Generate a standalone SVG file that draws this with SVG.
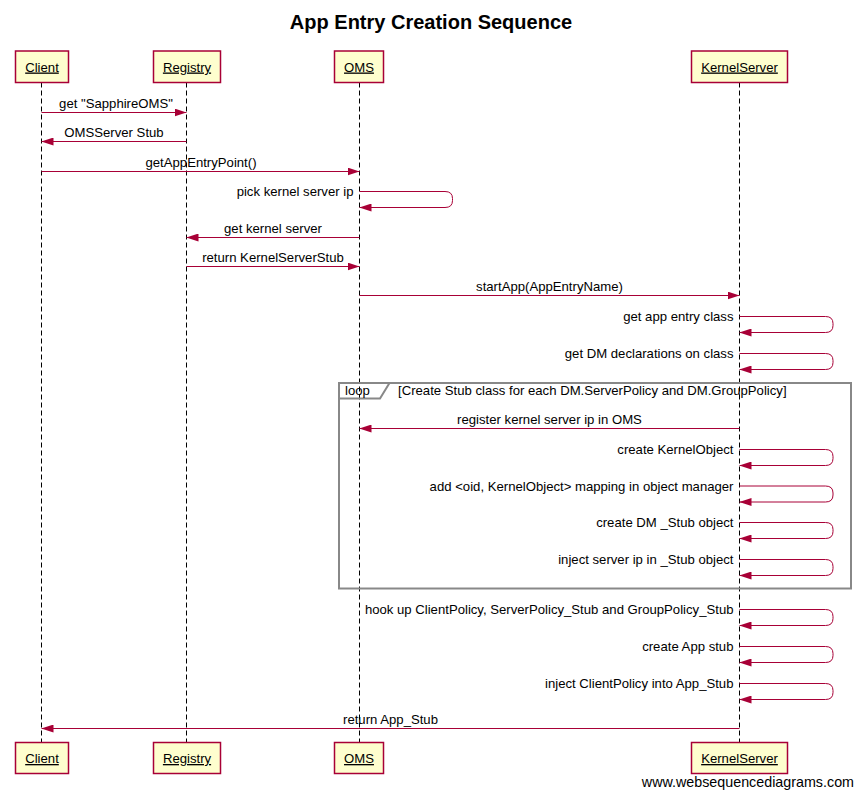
<svg xmlns="http://www.w3.org/2000/svg" width="863" height="797" viewBox="0 0 863 797">
<defs>
<style>
text{font-family:"Liberation Sans",Arial,sans-serif;font-size:13.15px;fill:#000}
.title{font-size:20px;font-weight:bold}
.box{fill:#FEFECE;stroke:#A80036;stroke-width:1.5}
.plabel{text-anchor:middle;text-decoration:underline}
.life{stroke:#000;stroke-width:1;stroke-dasharray:5,3;fill:none}
.msg{stroke:#A80036;stroke-width:1;fill:none;marker-end:url(#ah)}
.mid{text-anchor:middle}
.end{text-anchor:end}
.frame{fill:none;stroke:#888;stroke-width:2}
.wm{font-size:14.3px;text-anchor:end}
</style>
<marker id="ah" viewBox="0 0 12 8" refX="12" refY="4" markerWidth="12" markerHeight="8" markerUnits="userSpaceOnUse" orient="auto">
<path d="M0,0 L12,4 L0,8 z" fill="#A80036"/>
</marker>
</defs>
<rect width="863" height="797" fill="#fff"/>
<text class="title" x="431" y="29" text-anchor="middle">App Entry Creation Sequence</text>

<g id="lifelines">
<line class="life" x1="41.5" y1="82.5" x2="41.5" y2="742.5"/>
<line class="life" x1="186.5" y1="82.5" x2="186.5" y2="742.5"/>
<line class="life" x1="359.5" y1="82.5" x2="359.5" y2="742.5"/>
<line class="life" x1="739.5" y1="82.5" x2="739.5" y2="742.5"/>
</g>

<g id="loop-frame">
<rect class="frame" x="339" y="383" width="512" height="205.5"/>
<path class="frame" d="M339,398.5 H380 L389.5,383"/>
<text x="345" y="395">loop</text>
<text x="398" y="395">[Create Stub class for each DM.ServerPolicy and DM.GroupPolicy]</text>
</g>

<g id="connectors">
<line class="msg" x1="41.5" y1="112.5" x2="186.5" y2="112.5"/>
<text class="mid" x="116" y="108">get "SapphireOMS"</text>
<line class="msg" x1="186.5" y1="141.5" x2="41.5" y2="141.5"/>
<text class="mid" x="114" y="137">OMSServer Stub</text>
<line class="msg" x1="41.5" y1="171.5" x2="359.5" y2="171.5"/>
<text class="mid" x="201" y="167">getAppEntryPoint()</text>
<path class="msg" d="M359.5,191.5 H445 Q452.5,191.5 452.5,198.5 V200.5 Q452.5,207.5 445,207.5 H359.5"/>
<text class="end" x="353.5" y="196">pick kernel server ip</text>
<line class="msg" x1="359.5" y1="237.5" x2="186.5" y2="237.5"/>
<text class="mid" x="273" y="233">get kernel server</text>
<line class="msg" x1="186.5" y1="266.5" x2="359.5" y2="266.5"/>
<text class="mid" x="273" y="262">return KernelServerStub</text>
<line class="msg" x1="359.5" y1="295.5" x2="739.5" y2="295.5"/>
<text class="mid" x="549.5" y="291">startApp(AppEntryName)</text>
<path class="msg" d="M739.5,316.5 H825.5 Q833,316.5 833,323.5 V325.5 Q833,332.5 825.5,332.5 H739.5"/>
<text class="end" x="733.5" y="321">get app entry class</text>
<path class="msg" d="M739.5,353.5 H825.5 Q833,353.5 833,360.5 V362.5 Q833,369.5 825.5,369.5 H739.5"/>
<text class="end" x="733.5" y="358">get DM declarations on class</text>
<line class="msg" x1="739.5" y1="428.5" x2="359.5" y2="428.5"/>
<text class="mid" x="549.5" y="424">register kernel server ip in OMS</text>
<path class="msg" d="M739.5,449.5 H825.5 Q833,449.5 833,456.5 V458.5 Q833,465.5 825.5,465.5 H739.5"/>
<text class="end" x="733.5" y="454">create KernelObject</text>
<path class="msg" d="M739.5,486 H825.5 Q833,486 833,493 V495 Q833,502 825.5,502 H739.5"/>
<text class="end" x="733.5" y="490.5">add &lt;oid, KernelObject&gt; mapping in object manager</text>
<path class="msg" d="M739.5,522.5 H825.5 Q833,522.5 833,529.5 V531.5 Q833,538.5 825.5,538.5 H739.5"/>
<text class="end" x="733.5" y="527">create DM _Stub object</text>
<path class="msg" d="M739.5,559.5 H825.5 Q833,559.5 833,566.5 V568.5 Q833,575.5 825.5,575.5 H739.5"/>
<text class="end" x="733.5" y="564">inject server ip in _Stub object</text>
<path class="msg" d="M739.5,609.5 H825.5 Q833,609.5 833,616.5 V618.5 Q833,625.5 825.5,625.5 H739.5"/>
<text class="end" x="733.5" y="614">hook up ClientPolicy, ServerPolicy_Stub and GroupPolicy_Stub</text>
<path class="msg" d="M739.5,646.5 H825.5 Q833,646.5 833,653.5 V655.5 Q833,662.5 825.5,662.5 H739.5"/>
<text class="end" x="733.5" y="651">create App stub</text>
<path class="msg" d="M739.5,683.5 H825.5 Q833,683.5 833,690.5 V692.5 Q833,699.5 825.5,699.5 H739.5"/>
<text class="end" x="733.5" y="688">inject ClientPolicy into App_Stub</text>
<line class="msg" x1="739.5" y1="728.5" x2="41.5" y2="728.5"/>
<text class="mid" x="390.5" y="724">return App_Stub</text>
</g>

<g id="Client">
<rect class="box" x="15.5" y="51" width="53" height="31.5"/>
<text class="plabel" x="42" y="71.5">Client</text>
<rect class="box" x="15.5" y="742.5" width="53" height="31"/>
<text class="plabel" x="42" y="763">Client</text>
</g>
<g id="Registry">
<rect class="box" x="153.5" y="51" width="67" height="31.5"/>
<text class="plabel" x="187" y="71.5">Registry</text>
<rect class="box" x="153.5" y="742.5" width="67" height="31"/>
<text class="plabel" x="187" y="763">Registry</text>
</g>
<g id="OMS">
<rect class="box" x="334.5" y="51" width="49" height="31.5"/>
<text class="plabel" x="359" y="71.5">OMS</text>
<rect class="box" x="334.5" y="742.5" width="49" height="31"/>
<text class="plabel" x="359" y="763">OMS</text>
</g>
<g id="KernelServer">
<rect class="box" x="691.5" y="51" width="96" height="31.5"/>
<text class="plabel" x="739.5" y="71.5">KernelServer</text>
<rect class="box" x="691.5" y="742.5" width="96" height="31"/>
<text class="plabel" x="739.5" y="763">KernelServer</text>
</g>

<text class="wm" x="854" y="787">www.websequencediagrams.com</text>
</svg>
